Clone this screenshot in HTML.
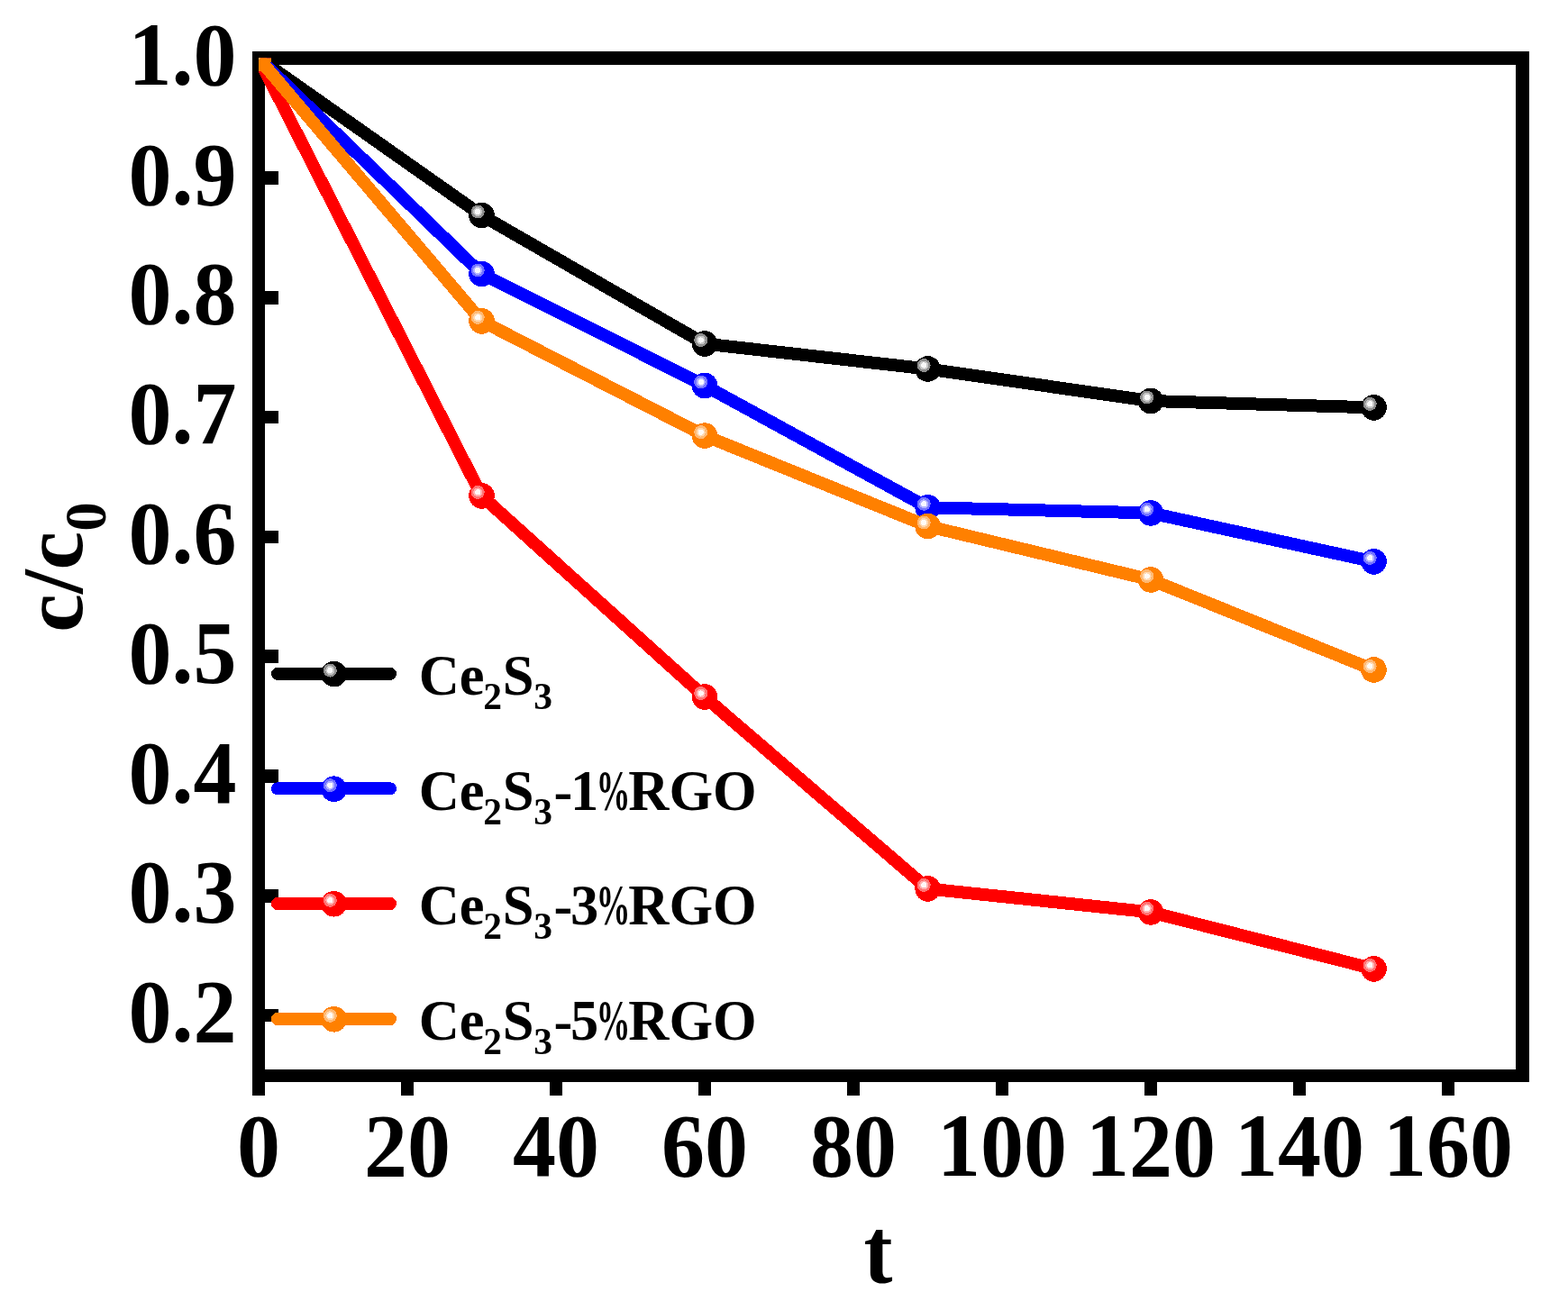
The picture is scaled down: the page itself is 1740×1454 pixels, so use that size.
<!DOCTYPE html>
<html><head><meta charset="utf-8"><title>c/c0 vs t</title>
<style>
html,body{margin:0;padding:0;background:#fff;}
body{width:1740px;height:1454px;overflow:hidden;}
svg{display:block;}
line,polyline,circle,rect{shape-rendering:crispEdges;}
text{font-family:"Liberation Serif","Times New Roman",serif;font-weight:bold;fill:#000;}
.tk{font-size:96px;}
.lg{font-size:62.5px;}
.sub{font-size:41.5px;}
.sub0{font-size:65px;}
</style></head>
<body>
<svg width="1740" height="1454" viewBox="0 0 1740 1454"><defs><clipPath id="pc"><rect x="287" y="64.5" width="1402.5" height="1129.5"/></clipPath></defs><rect x="280" y="57" width="1417" height="14.8" fill="#000"/><rect x="280" y="1187" width="1417" height="14" fill="#000"/><rect x="280" y="57" width="14" height="1159" fill="#000"/><rect x="1682" y="57" width="15" height="1144" fill="#000"/><rect x="280" y="1119.8" width="29" height="14.6" fill="#000"/><rect x="280" y="987.0" width="29" height="14.6" fill="#000"/><rect x="280" y="854.2" width="29" height="14.6" fill="#000"/><rect x="280" y="721.4" width="29" height="14.6" fill="#000"/><rect x="280" y="588.6" width="29" height="14.6" fill="#000"/><rect x="280" y="455.8" width="29" height="14.6" fill="#000"/><rect x="280" y="323.0" width="29" height="14.6" fill="#000"/><rect x="280" y="190.2" width="29" height="14.6" fill="#000"/><rect x="445.0" y="1187" width="14" height="29" fill="#000"/><rect x="610.0" y="1187" width="14" height="29" fill="#000"/><rect x="775.0" y="1187" width="14" height="29" fill="#000"/><rect x="940.0" y="1187" width="14" height="29" fill="#000"/><rect x="1105.0" y="1187" width="14" height="29" fill="#000"/><rect x="1270.0" y="1187" width="14" height="29" fill="#000"/><rect x="1435.0" y="1187" width="14" height="29" fill="#000"/><rect x="1600.0" y="1187" width="14" height="29" fill="#000"/><g clip-path="url(#pc)"><polyline points="287.0,64.7 534.5,239.0 782.0,381.5 1029.5,409.5 1277.0,445.0 1524.5,452.4" fill="none" stroke="#000000" stroke-width="14.0" stroke-linejoin="round" stroke-linecap="round"/><circle cx="287.0" cy="64.7" r="14.3" fill="#000000"/><circle cx="282.7" cy="60.7" r="7.5" fill="#8e8e8e"/><circle cx="282.7" cy="60.7" r="5.0" fill="#c6c6c6"/><circle cx="282.7" cy="60.7" r="3.1" fill="#f8f8f8"/><circle cx="534.5" cy="239.0" r="14.3" fill="#000000"/><circle cx="530.2" cy="235.0" r="7.5" fill="#8e8e8e"/><circle cx="530.2" cy="235.0" r="5.0" fill="#c6c6c6"/><circle cx="530.2" cy="235.0" r="3.1" fill="#f8f8f8"/><circle cx="782.0" cy="381.5" r="14.3" fill="#000000"/><circle cx="777.7" cy="377.5" r="7.5" fill="#8e8e8e"/><circle cx="777.7" cy="377.5" r="5.0" fill="#c6c6c6"/><circle cx="777.7" cy="377.5" r="3.1" fill="#f8f8f8"/><circle cx="1029.5" cy="409.5" r="14.3" fill="#000000"/><circle cx="1025.2" cy="405.5" r="7.5" fill="#8e8e8e"/><circle cx="1025.2" cy="405.5" r="5.0" fill="#c6c6c6"/><circle cx="1025.2" cy="405.5" r="3.1" fill="#f8f8f8"/><circle cx="1277.0" cy="445.0" r="14.3" fill="#000000"/><circle cx="1272.7" cy="441.0" r="7.5" fill="#8e8e8e"/><circle cx="1272.7" cy="441.0" r="5.0" fill="#c6c6c6"/><circle cx="1272.7" cy="441.0" r="3.1" fill="#f8f8f8"/><circle cx="1524.5" cy="452.4" r="14.3" fill="#000000"/><circle cx="1520.2" cy="448.4" r="7.5" fill="#8e8e8e"/><circle cx="1520.2" cy="448.4" r="5.0" fill="#c6c6c6"/><circle cx="1520.2" cy="448.4" r="3.1" fill="#f8f8f8"/><polyline points="287.0,64.7 534.5,304.0 782.0,428.0 1029.5,563.3 1277.0,569.4 1524.5,623.4" fill="none" stroke="#0000ff" stroke-width="14.0" stroke-linejoin="round" stroke-linecap="round"/><circle cx="287.0" cy="64.7" r="14.3" fill="#0000ff"/><circle cx="282.7" cy="60.7" r="7.5" fill="#7373ff"/><circle cx="282.7" cy="60.7" r="5.0" fill="#b2b2ff"/><circle cx="282.7" cy="60.7" r="3.1" fill="#f7f7ff"/><circle cx="534.5" cy="304.0" r="14.3" fill="#0000ff"/><circle cx="530.2" cy="300.0" r="7.5" fill="#7373ff"/><circle cx="530.2" cy="300.0" r="5.0" fill="#b2b2ff"/><circle cx="530.2" cy="300.0" r="3.1" fill="#f7f7ff"/><circle cx="782.0" cy="428.0" r="14.3" fill="#0000ff"/><circle cx="777.7" cy="424.0" r="7.5" fill="#7373ff"/><circle cx="777.7" cy="424.0" r="5.0" fill="#b2b2ff"/><circle cx="777.7" cy="424.0" r="3.1" fill="#f7f7ff"/><circle cx="1029.5" cy="563.3" r="14.3" fill="#0000ff"/><circle cx="1025.2" cy="559.3" r="7.5" fill="#7373ff"/><circle cx="1025.2" cy="559.3" r="5.0" fill="#b2b2ff"/><circle cx="1025.2" cy="559.3" r="3.1" fill="#f7f7ff"/><circle cx="1277.0" cy="569.4" r="14.3" fill="#0000ff"/><circle cx="1272.7" cy="565.4" r="7.5" fill="#7373ff"/><circle cx="1272.7" cy="565.4" r="5.0" fill="#b2b2ff"/><circle cx="1272.7" cy="565.4" r="3.1" fill="#f7f7ff"/><circle cx="1524.5" cy="623.4" r="14.3" fill="#0000ff"/><circle cx="1520.2" cy="619.4" r="7.5" fill="#7373ff"/><circle cx="1520.2" cy="619.4" r="5.0" fill="#b2b2ff"/><circle cx="1520.2" cy="619.4" r="3.1" fill="#f7f7ff"/><polyline points="287.0,64.7 534.5,550.4 782.0,773.5 1029.5,986.4 1277.0,1012.4 1524.5,1075.4" fill="none" stroke="#ff0000" stroke-width="14.0" stroke-linejoin="round" stroke-linecap="round"/><circle cx="287.0" cy="64.7" r="14.3" fill="#ff0000"/><circle cx="282.7" cy="60.7" r="7.5" fill="#ff7373"/><circle cx="282.7" cy="60.7" r="5.0" fill="#ffb2b2"/><circle cx="282.7" cy="60.7" r="3.1" fill="#fff7f7"/><circle cx="534.5" cy="550.4" r="14.3" fill="#ff0000"/><circle cx="530.2" cy="546.4" r="7.5" fill="#ff7373"/><circle cx="530.2" cy="546.4" r="5.0" fill="#ffb2b2"/><circle cx="530.2" cy="546.4" r="3.1" fill="#fff7f7"/><circle cx="782.0" cy="773.5" r="14.3" fill="#ff0000"/><circle cx="777.7" cy="769.5" r="7.5" fill="#ff7373"/><circle cx="777.7" cy="769.5" r="5.0" fill="#ffb2b2"/><circle cx="777.7" cy="769.5" r="3.1" fill="#fff7f7"/><circle cx="1029.5" cy="986.4" r="14.3" fill="#ff0000"/><circle cx="1025.2" cy="982.4" r="7.5" fill="#ff7373"/><circle cx="1025.2" cy="982.4" r="5.0" fill="#ffb2b2"/><circle cx="1025.2" cy="982.4" r="3.1" fill="#fff7f7"/><circle cx="1277.0" cy="1012.4" r="14.3" fill="#ff0000"/><circle cx="1272.7" cy="1008.4" r="7.5" fill="#ff7373"/><circle cx="1272.7" cy="1008.4" r="5.0" fill="#ffb2b2"/><circle cx="1272.7" cy="1008.4" r="3.1" fill="#fff7f7"/><circle cx="1524.5" cy="1075.4" r="14.3" fill="#ff0000"/><circle cx="1520.2" cy="1071.4" r="7.5" fill="#ff7373"/><circle cx="1520.2" cy="1071.4" r="5.0" fill="#ffb2b2"/><circle cx="1520.2" cy="1071.4" r="3.1" fill="#fff7f7"/><polyline points="287.0,64.7 534.5,356.4 782.0,483.6 1029.5,584.0 1277.0,643.5 1524.5,743.5" fill="none" stroke="#ff8000" stroke-width="14.0" stroke-linejoin="round" stroke-linecap="round"/><circle cx="287.0" cy="64.7" r="14.3" fill="#ff8000"/><circle cx="282.7" cy="60.7" r="7.5" fill="#ffb973"/><circle cx="282.7" cy="60.7" r="5.0" fill="#ffd9b2"/><circle cx="282.7" cy="60.7" r="3.1" fill="#fffbf7"/><circle cx="534.5" cy="356.4" r="14.3" fill="#ff8000"/><circle cx="530.2" cy="352.4" r="7.5" fill="#ffb973"/><circle cx="530.2" cy="352.4" r="5.0" fill="#ffd9b2"/><circle cx="530.2" cy="352.4" r="3.1" fill="#fffbf7"/><circle cx="782.0" cy="483.6" r="14.3" fill="#ff8000"/><circle cx="777.7" cy="479.6" r="7.5" fill="#ffb973"/><circle cx="777.7" cy="479.6" r="5.0" fill="#ffd9b2"/><circle cx="777.7" cy="479.6" r="3.1" fill="#fffbf7"/><circle cx="1029.5" cy="584.0" r="14.3" fill="#ff8000"/><circle cx="1025.2" cy="580.0" r="7.5" fill="#ffb973"/><circle cx="1025.2" cy="580.0" r="5.0" fill="#ffd9b2"/><circle cx="1025.2" cy="580.0" r="3.1" fill="#fffbf7"/><circle cx="1277.0" cy="643.5" r="14.3" fill="#ff8000"/><circle cx="1272.7" cy="639.5" r="7.5" fill="#ffb973"/><circle cx="1272.7" cy="639.5" r="5.0" fill="#ffd9b2"/><circle cx="1272.7" cy="639.5" r="3.1" fill="#fffbf7"/><circle cx="1524.5" cy="743.5" r="14.3" fill="#ff8000"/><circle cx="1520.2" cy="739.5" r="7.5" fill="#ffb973"/><circle cx="1520.2" cy="739.5" r="5.0" fill="#ffd9b2"/><circle cx="1520.2" cy="739.5" r="3.1" fill="#fffbf7"/></g><line x1="308" y1="747.8" x2="433" y2="747.8" stroke="#000000" stroke-width="14.0" stroke-linecap="round"/><circle cx="370.6" cy="748.1" r="14.3" fill="#000000"/><circle cx="366.3" cy="744.1" r="7.5" fill="#8e8e8e"/><circle cx="366.3" cy="744.1" r="5.0" fill="#c6c6c6"/><circle cx="366.3" cy="744.1" r="3.1" fill="#f8f8f8"/><text y="771.2" class="lg"><tspan x="464.65">Ce</tspan><tspan x="536.26" y="787.4" class="sub">2</tspan><tspan x="557.67" y="771.2">S</tspan><tspan x="592.14" y="787.4" class="sub">3</tspan></text><line x1="308" y1="875.4" x2="433" y2="875.4" stroke="#0000ff" stroke-width="14.0" stroke-linecap="round"/><circle cx="370.6" cy="875.7" r="14.3" fill="#0000ff"/><circle cx="366.3" cy="871.7" r="7.5" fill="#7373ff"/><circle cx="366.3" cy="871.7" r="5.0" fill="#b2b2ff"/><circle cx="366.3" cy="871.7" r="3.1" fill="#f7f7ff"/><text y="898.9" class="lg"><tspan x="464.65">Ce</tspan><tspan x="536.26" y="915.1" class="sub">2</tspan><tspan x="557.67" y="898.9">S</tspan><tspan x="592.14" y="915.1" class="sub">3</tspan><tspan x="614.6" y="898.9">-</tspan><tspan x="632.9">1</tspan></text><text transform="translate(661.5,898.9) scale(0.609,1)" class="lg">%</text><text x="697.3" y="898.9" class="lg">RGO</text><line x1="308" y1="1003.0" x2="433" y2="1003.0" stroke="#ff0000" stroke-width="14.0" stroke-linecap="round"/><circle cx="370.6" cy="1003.3" r="14.3" fill="#ff0000"/><circle cx="366.3" cy="999.3" r="7.5" fill="#ff7373"/><circle cx="366.3" cy="999.3" r="5.0" fill="#ffb2b2"/><circle cx="366.3" cy="999.3" r="3.1" fill="#fff7f7"/><text y="1025.7" class="lg"><tspan x="464.65">Ce</tspan><tspan x="536.26" y="1041.9" class="sub">2</tspan><tspan x="557.67" y="1025.7">S</tspan><tspan x="592.14" y="1041.9" class="sub">3</tspan><tspan x="614.6" y="1025.7">-</tspan><tspan x="632.9">3</tspan></text><text transform="translate(661.5,1025.7) scale(0.609,1)" class="lg">%</text><text x="697.3" y="1025.7" class="lg">RGO</text><line x1="308" y1="1131.0" x2="433" y2="1131.0" stroke="#ff8000" stroke-width="14.0" stroke-linecap="round"/><circle cx="370.6" cy="1131.3" r="14.3" fill="#ff8000"/><circle cx="366.3" cy="1127.3" r="7.5" fill="#ffb973"/><circle cx="366.3" cy="1127.3" r="5.0" fill="#ffd9b2"/><circle cx="366.3" cy="1127.3" r="3.1" fill="#fffbf7"/><text y="1153.9" class="lg"><tspan x="464.65">Ce</tspan><tspan x="536.26" y="1170.1" class="sub">2</tspan><tspan x="557.67" y="1153.9">S</tspan><tspan x="592.14" y="1170.1" class="sub">3</tspan><tspan x="614.6" y="1153.9">-</tspan><tspan x="632.9">5</tspan></text><text transform="translate(661.5,1153.9) scale(0.609,1)" class="lg">%</text><text x="697.3" y="1153.9" class="lg">RGO</text><text transform="translate(262.5,1156.1) scale(1,1.025)" class="tk" text-anchor="end">0.2</text><text transform="translate(262.5,1023.3) scale(1,1.025)" class="tk" text-anchor="end">0.3</text><text transform="translate(262.5,890.5) scale(1,1.025)" class="tk" text-anchor="end">0.4</text><text transform="translate(262.5,757.7) scale(1,1.025)" class="tk" text-anchor="end">0.5</text><text transform="translate(262.5,624.9) scale(1,1.025)" class="tk" text-anchor="end">0.6</text><text transform="translate(262.5,492.1) scale(1,1.025)" class="tk" text-anchor="end">0.7</text><text transform="translate(262.5,359.3) scale(1,1.025)" class="tk" text-anchor="end">0.8</text><text transform="translate(262.5,226.5) scale(1,1.025)" class="tk" text-anchor="end">0.9</text><text transform="translate(262.5,93.7) scale(1,1.025)" class="tk" text-anchor="end">1.0</text><text transform="translate(287.0,1304.5) scale(1,1.025)" class="tk" text-anchor="middle">0</text><text transform="translate(452.0,1304.5) scale(1,1.025)" class="tk" text-anchor="middle">20</text><text transform="translate(617.0,1304.5) scale(1,1.025)" class="tk" text-anchor="middle">40</text><text transform="translate(782.0,1304.5) scale(1,1.025)" class="tk" text-anchor="middle">60</text><text transform="translate(947.0,1304.5) scale(1,1.025)" class="tk" text-anchor="middle">80</text><text transform="translate(1112.0,1304.5) scale(1,1.025)" class="tk" text-anchor="middle">100</text><text transform="translate(1277.0,1304.5) scale(1,1.025)" class="tk" text-anchor="middle">120</text><text transform="translate(1442.0,1304.5) scale(1,1.025)" class="tk" text-anchor="middle">140</text><text transform="translate(1607.0,1304.5) scale(1,1.025)" class="tk" text-anchor="middle">160</text><text transform="translate(958.4,1422.9) scale(1,1.09)" class="tk">t</text><text transform="translate(91,629.5) rotate(-90)" class="tk" text-anchor="middle">c/c<tspan class="sub0" dy="26">0</tspan></text></svg>
</body></html>
